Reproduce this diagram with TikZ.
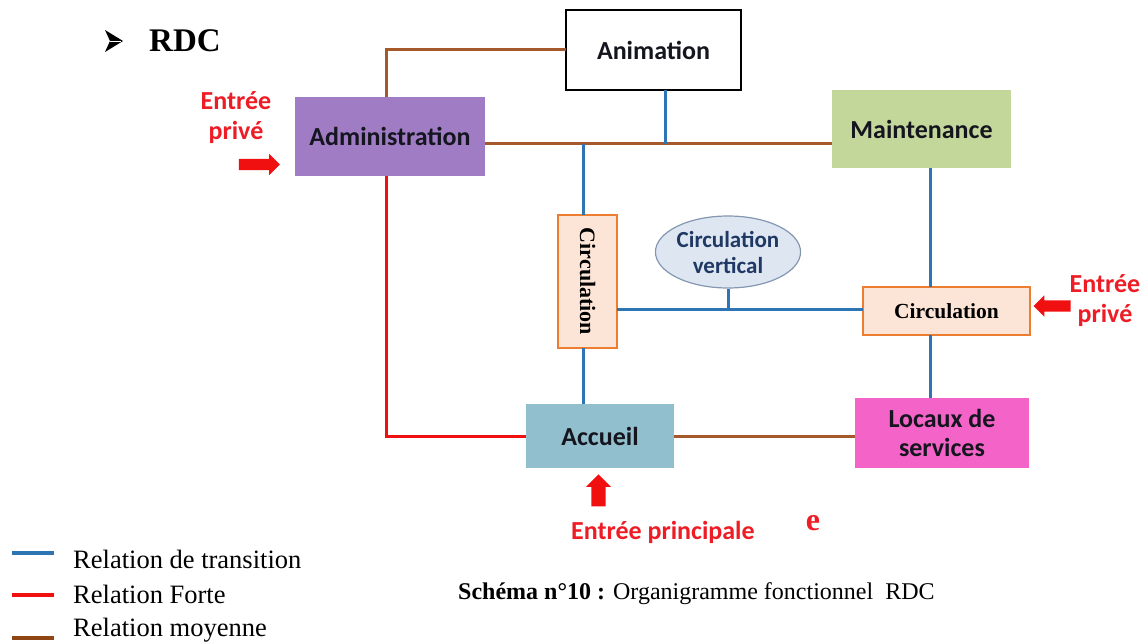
\documentclass[tikz,border=0pt]{standalone}
\usepackage{fontspec}
\setmainfont{Liberation Serif}
\newfontfamily\calib{Carlito}
\usetikzlibrary{shapes.geometric,shapes.arrows}
\definecolor{tblue}{HTML}{2E75B6}
\definecolor{tred}{HTML}{F01010}
\definecolor{tbrown}{HTML}{A5582A}
\definecolor{legbrown}{HTML}{8E4614}
\definecolor{admc}{HTML}{9F7CC3}
\definecolor{maic}{HTML}{C4D79B}
\definecolor{accc}{HTML}{92BFCE}
\definecolor{locc}{HTML}{F464C8}
\definecolor{circf}{HTML}{FCE4D6}
\definecolor{circd}{HTML}{ED7D31}
\definecolor{ellf}{HTML}{DEE6F2}
\definecolor{elld}{HTML}{8497B0}
\definecolor{elltxt}{HTML}{1F3864}
\definecolor{entred}{HTML}{EE1C25}
\definecolor{boxtxt}{HTML}{15151F}
\tikzset{
  boxbase/.style={inner sep=0pt, outer sep=0pt, align=center, text=boxtxt, font=\calib\bfseries\fontsize{26}{29}\selectfont},
  roombox/.style={boxbase, draw=none},
  circbox/.style={inner sep=0pt, outer sep=0pt, fill=circf, draw=circd, line width=2pt, font=\bfseries\fontsize{21.5}{24}\selectfont},
  bluel/.style={draw=tblue, line width=3pt},
  redl/.style={draw=tred, line width=3pt},
  brownl/.style={draw=tbrown, line width=3pt},
  entxt/.style={text=entred, font=\calib\bfseries\fontsize{26}{30}\selectfont, inner sep=0pt, align=center},
  redarrow/.style={single arrow, fill=tred, draw=none, inner sep=5.5pt, outer sep=0pt, single arrow head extend=5pt},
  legtxt/.style={anchor=west, inner sep=0pt, font=\fontsize{26.5}{30}\selectfont},
}
\begin{document}
\begin{tikzpicture}[x=1pt,y=-1pt]
\useasboundingbox (0,0) rectangle (1146,644);
% title
\fill[black] (105,30) -- (123,41) -- (105,52) -- (110,41) -- cycle;
\draw[white, line width=0.6pt] (110,41) -- (121,41);
\node[anchor=west, inner sep=0pt, font=\bfseries\fontsize{33}{36}\selectfont] (title) at (149,41) {RDC};
% boxes
\node[boxbase, draw=black, fill=white, line width=2pt, minimum width=175, minimum height=80] (anim) at (653.5,50) {Animation};
\node[roombox, fill=admc, minimum width=190, minimum height=79] (admin) at (390,136.5) {Administration};
\node[roombox, fill=maic, minimum width=179, minimum height=78] (maint) at (921.5,129) {Maintenance};
\node[circbox, minimum width=59, minimum height=133] (circV) at (587.5,281.5) {\rotatebox{-90}{\fontsize{22}{24}\selectfont Circulation}};
\node[ellipse, fill=ellf, draw=elld, line width=1.2pt, inner sep=0pt, minimum width=142, minimum height=72, align=center, text=elltxt, font=\calib\bfseries\fontsize{23}{26}\selectfont] (ell) at (728,252) {Circulation\\vertical};
\node[circbox, minimum width=167, minimum height=48] (circH) at (946.5,311) {Circulation};
\node[roombox, fill=accc, minimum width=148, minimum height=64] (acc) at (600,436) {Accueil};
\node[roombox, fill=locc, minimum width=174, minimum height=70] (loc) at (942,433) {Locaux de\\services};
% junction coordinates
\coordinate (jA) at (665,144);
\coordinate (jC) at (583,144);
\coordinate (jE) at (723,310);
\coordinate (jM) at (930,0);
\coordinate (jAd) at (386,0);
% connectors
\draw[brownl] (admin.north -| jAd) |- (anim.west);
\draw[brownl] (admin.east |- jA) -- (maint.west |- jA);
\draw[bluel] (anim.south -| jA) -- (jA);
\draw[bluel] (jC) -- (circV.north -| jC);
\draw[bluel] (circV.south -| jC) -- (acc.north -| jC);
\draw[bluel] (circV.east |- jE) -- (circH.west |- jE);
\draw[bluel] (ell.south) -- (ell.south |- jE);
\draw[bluel] (maint.south -| jM) -- (circH.north -| jM);
\draw[bluel] (circH.south -| jM) -- (loc.north -| jM);
\draw[redl] (admin.south -| jAd) |- (acc.west);
\draw[brownl] (acc.east) -- (loc.west |- acc.east);
% entrances
\node[entxt] (ep1) at (236,118) {Entrée\\privé};
\node[redarrow, minimum height=41, minimum width=21] (ar1) at (256.5,164.5) {};
\node[entxt] (ep2) at (1105,301) {Entrée\\privé};
\node[redarrow, shape border rotate=180, minimum height=37, minimum width=20] (ar2) at (1055,306) {};
\node[redarrow, shape border rotate=90, minimum height=32, minimum width=25, inner sep=6.5pt] (ar3) at (598.5,494) {};
\node[entxt, anchor=west] (epr) at (571,532) {Entrée principale};
\node[text=entred, inner sep=0pt, font=\bfseries\fontsize{32}{34}\selectfont] (ee) at (813,523) {e};
% legend
\coordinate (lb1) at (12,553); \coordinate (lb2) at (54,553);
\coordinate (lr1) at (12,595); \coordinate (lr2) at (54,595);
\coordinate (lm1) at (12,638); \coordinate (lm2) at (54,638);
\draw[bluel, line width=4pt] (lb1) -- (lb2);
\draw[redl, line width=4pt] (lr1) -- (lr2);
\draw[draw=legbrown, line width=4pt] (lm1) -- (lm2);
\node[legtxt] (lt1) at (73,559) {Relation de transition};
\node[legtxt] (lt2) at (73,594) {Relation Forte};
\node[legtxt] (lt3) at (73,630) {Relation moyenne};
\node[anchor=west, inner sep=0pt, font=\fontsize{24}{28}\selectfont] (cap) at (458,594) {\textbf{Schéma n°10 :} Organigramme fonctionnel\ \ RDC};
\end{tikzpicture}
\end{document}
